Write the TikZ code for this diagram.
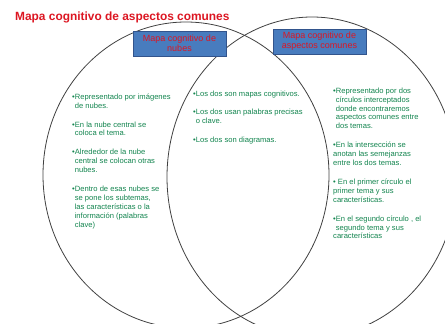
\documentclass[tikz,border=0pt]{standalone}
\usepackage{fontspec}
\setmainfont{Liberation Sans}
\usepackage{tikz}
\usetikzlibrary{positioning}
\definecolor{titlered}{RGB}{220,22,34}
\definecolor{boxblue}{RGB}{72,124,190}
\definecolor{boxedge}{RGB}{50,84,140}
\definecolor{notegreen}{RGB}{18,132,78}
\newcommand{\ind}{\hspace*{2.6pt}}

\begin{document}
\begin{tikzpicture}[x=1pt, y=-1pt,
  circleline/.style={draw=black!75, line width=0.8pt},
  headbox/.style={draw=boxedge, fill=boxblue, line width=0.8pt, text=titlered, font=\fontsize{9}{10}\selectfont, align=center, inner sep=0pt},
  notes/.style={text=notegreen, font=\fontsize{7.6}{8.9}\selectfont, align=left, anchor=north west, inner sep=0pt}]
\useasboundingbox (0,0) rectangle (445,324);
\clip (0,0) rectangle (445,324);
%% the two circles
\draw[circleline] (186,175) ellipse [x radius=143, y radius=153];
\draw[circleline] (312,177) ellipse [x radius=145, y radius=160];

\node[anchor=base west, text=titlered, font=\fontsize{11.9}{12}\selectfont\bfseries, inner sep=0pt] (title) at (15,20) {Mapa cognitivo de aspectos comunes};

\node[headbox, minimum width=93pt, minimum height=25pt] (nubes) at (179.5,43.5) {Mapa cognitivo de\\nubes};
\node[headbox, minimum width=93pt, minimum height=25pt] (comunes) at (319.5,41.5) {Mapa cognitivo de\\aspectos comunes};

%% left circle only
\node[notes] (izq) at (72,93.5) {•Representado por imágenes\\ \ind de nubes.\\[10pt]
•En la nube central se\\ \ind coloca el tema.\\[10pt]
•Alrededor de la nube\\ \ind central se colocan otras\\ \ind nubes.\\[10pt]
•Dentro de esas nubes se\\ \ind se pone los subtemas,\\ \ind las características o la\\ \ind información (palabras\\ \ind clave)};
%% intersection
\node[notes] (centro) at (193,90.5) {•Los dos son mapas cognitivos.\\[9pt]
•Los dos usan palabras precisas\\ \ind o clave.\\[11pt]
•Los dos son diagramas.};
%% right circle only
\node[notes] (der) at (333,87.5) {•Representado por dos\\ \ind círculos interceptados\\ \ind donde encontraremos\\ \ind aspectos comunes entre\\ \ind dos temas.\\[10pt]
•En la intersección se\\ anotan las semejanzas\\ entre los dos temas.\\[10pt]
• En el primer círculo el\\ primer tema y sus\\ características.\\[10pt]
•En el segundo círculo , el\\ \ind segundo tema y sus\\ características};
\end{tikzpicture}
\end{document}
